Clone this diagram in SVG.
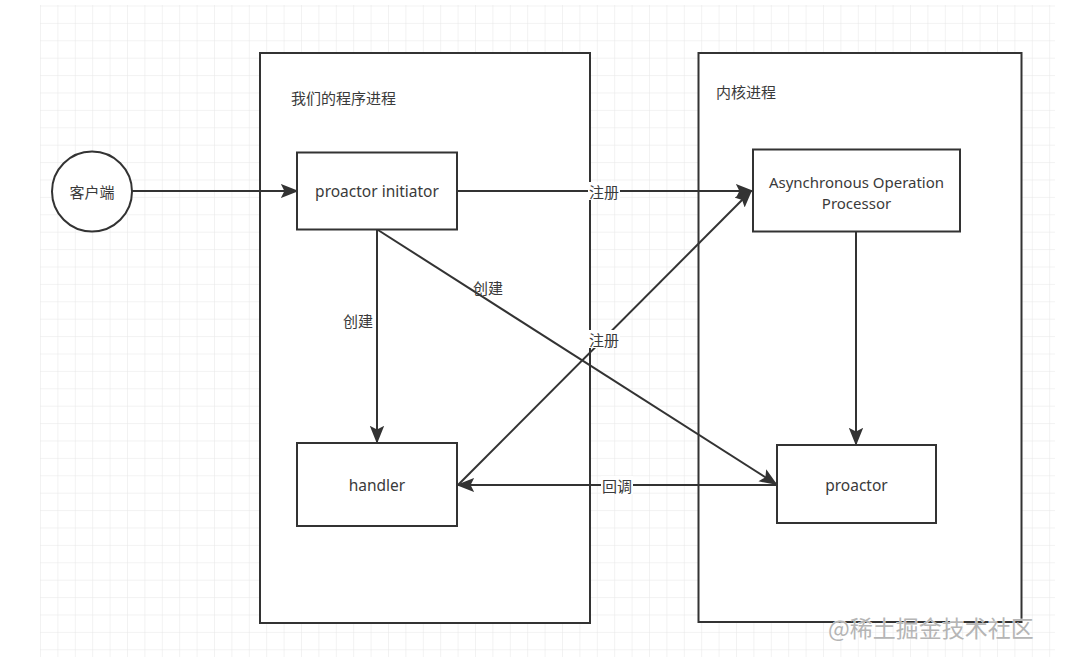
<svg xmlns="http://www.w3.org/2000/svg" width="1069" height="667" viewBox="0 0 1069 667">
<defs>
<pattern id="grid" x="40" y="5.5" width="17.4" height="17.4" patternUnits="userSpaceOnUse">
<path d="M0 0 H17.4 M0 0 V17.4" fill="none" stroke="#e6e6e6" stroke-width="1"/>
</pattern>
<marker id="arrb" viewBox="0 0 10 10" refX="9" refY="5" markerWidth="18" markerHeight="18" markerUnits="userSpaceOnUse" orient="auto">
<path d="M0 1 L10 5 L0 9 L2 5 Z" fill="#333"/>
</marker>
</defs>
<style>
.box{fill:#fff;stroke:#333;stroke-width:2}
.cont{fill:#fff;stroke:#333;stroke-width:2}
.t{font-family:"Noto Sans","Noto Sans CJK SC",sans-serif;font-size:15.5px;fill:#3a3a3a;text-anchor:middle;dominant-baseline:central}
.t2{font-size:15px}
.cn{font-family:"Noto Sans CJK SC","Noto Sans",sans-serif;font-size:15px;fill:#3a3a3a}
.lbl{font-family:"Noto Sans CJK SC","Noto Sans",sans-serif;font-size:15px;fill:#3a3a3a;text-anchor:middle;dominant-baseline:central}
.edge{fill:none;stroke:#333;stroke-width:2;marker-end:url(#arrb)}
.lb{fill:#fff}
</style>
<rect width="1069" height="667" fill="#fff"/>
<rect x="40" y="5" width="1015" height="652" fill="url(#grid)"/>

<g id="container-program">
<rect class="cont" x="260" y="53" width="330" height="570"/>
<text class="cn" x="291" y="97" dominant-baseline="central">我们的程序进程</text>
</g>
<g id="container-kernel">
<rect class="cont" x="698.5" y="53" width="323" height="569"/>
<text class="cn" x="716" y="91" dominant-baseline="central">内核进程</text>
</g>

<g id="connectors">
<line class="edge" x1="132" y1="191" x2="297" y2="191"/>
<line class="edge" x1="457" y1="191" x2="752" y2="191"/>
<line class="edge" x1="377" y1="229" x2="377" y2="442"/>
<line class="edge" x1="378" y1="230" x2="776" y2="484"/>
<line class="edge" x1="458" y1="485" x2="751" y2="191"/>
<line class="edge" x1="777" y1="485" x2="458" y2="485"/>
<line class="edge" x1="856" y1="232" x2="856" y2="444"/>
<rect class="lb" x="588" y="182" width="32" height="18"/>
<text class="lbl" x="604" y="191">注册</text>
<text class="lbl" x="358" y="320">创建</text>
<text class="lbl" x="488" y="287">创建</text>
<rect class="lb" x="588" y="330" width="32" height="18"/>
<text class="lbl" x="604" y="339">注册</text>
<rect class="lb" x="601" y="476" width="32" height="18"/>
<text class="lbl" x="617" y="485">回调</text>
</g>

<g id="client">
<circle cx="92" cy="191.5" r="40" fill="#fff" stroke="#333" stroke-width="2"/>
<text class="lbl" x="92" y="191.5">客户端</text>
</g>
<g id="proactor-initiator">
<rect class="box" x="297" y="152.5" width="160" height="77"/>
<text class="t" x="377" y="191">proactor initiator</text>
</g>
<g id="aop">
<rect class="box" x="753" y="149.5" width="207" height="82"/>
<text class="t t2" x="856.5" y="181.5">Asynchronous Operation</text>
<text class="t t2" x="856.5" y="202.5">Processor</text>
</g>
<g id="handler">
<rect class="box" x="297" y="443" width="160" height="83"/>
<text class="t" x="377" y="485">handler</text>
</g>
<g id="proactor">
<rect class="box" x="777" y="445" width="159" height="78"/>
<text class="t" x="856.5" y="485">proactor</text>
</g>

<text x="828" y="627" font-family="Noto Sans CJK SC, Noto Sans, sans-serif" font-size="23" fill="#b5b5b5" stroke="#fff" stroke-width="0.6" paint-order="stroke" dominant-baseline="central">@稀土掘金技术社区</text>
</svg>
